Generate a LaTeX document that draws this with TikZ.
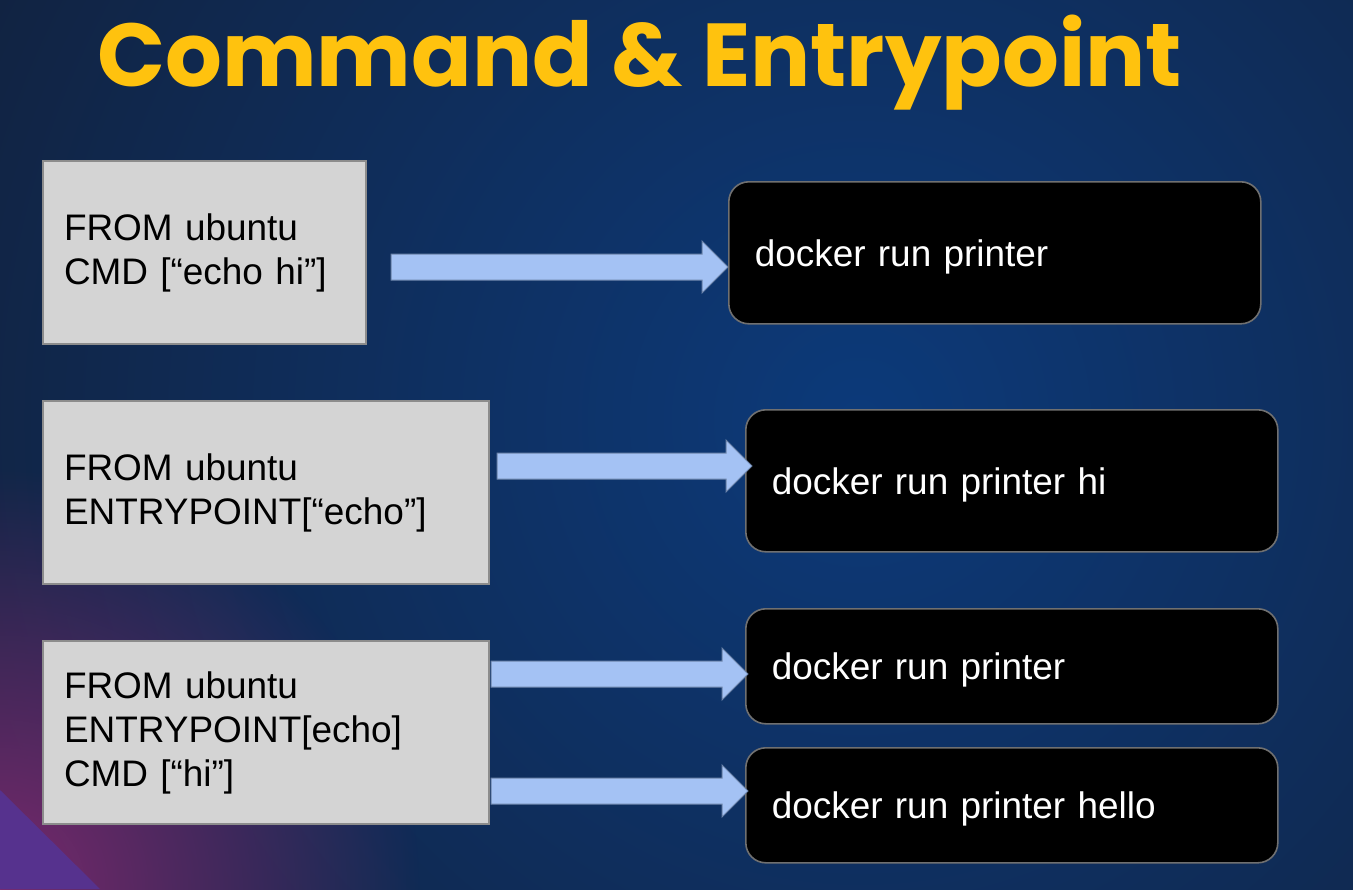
\documentclass[tikz,border=0pt]{standalone}
\usepackage{fontspec}
\setmainfont{Liberation Sans}
\newfontfamily\titlefont{Poppins}
\usetikzlibrary{%
    calc,
    fadings,
    positioning
}
\definecolor{bgdark}{HTML}{131B2E}
\definecolor{bgglow}{HTML}{0C3A7A}
\definecolor{titleyellow}{HTML}{FFC20E}
\definecolor{boxgray}{HTML}{D4D4D4}
\definecolor{boxedge}{HTML}{8C8C8C}
\definecolor{runedge}{HTML}{707070}
\definecolor{arrowblue}{HTML}{A4C2F4}
\definecolor{arrowedge}{HTML}{6C84AA}
\definecolor{cornerpink}{HTML}{7A2A6E}
\definecolor{cornerpurple}{HTML}{56328E}
\tikzfading[name=cornerfade, inner color=transparent!0, outer color=transparent!100]
\tikzset{
    srcbox/.style = {draw=boxedge, fill=boxgray, line width=1.5pt, anchor=north west,
        minimum height=137.25pt, inner xsep=15.75pt, text width=#1, align=left,
        font=\fontsize{27.7}{33}\selectfont},
    runbox/.style = {draw=runedge, fill=black, line width=1.2pt, rounded corners=15pt,
        anchor=north west, minimum height=#1, inner xsep=19.5pt, text width=360pt,
        align=left, text depth=0pt, text=white, font=\fontsize{27.7}{33}\selectfont},
    fatarrow/.style = {draw=arrowedge, fill=arrowblue, line width=0.75pt}
}
\newcommand{\blockarrow}[2]{%
    \draw[fatarrow] ($(#1)+(0,-13)$) -- ($(#2)+(-26,-13)$) -- ($(#2)+(-26,-26)$) -- (#2)
        -- ($(#2)+(-26,26)$) -- ($(#2)+(-26,13)$) -- ($(#1)+(0,13)$) -- cycle;}

\begin{document}
\begin{tikzpicture}[x=0.75pt, y=-0.75pt]
    % background
    \fill[bgdark] (0,0) rectangle (1353,889);
    \begin{scope}
        \clip (0,0) rectangle (1353,889);
        \shade[inner color=bgglow, outer color=bgdark] (860,420) circle (1300);
        \fill[cornerpink, path fading=cornerfade] (0,889) circle (420);
        \fill[cornerpurple] (0,790) -- (100,889) -- (0,889) -- cycle;
    \end{scope}
    \useasboundingbox (0,0) rectangle (1353,889);

    \node[anchor=base west, text=titleyellow, inner sep=0pt,
          font=\titlefont\bfseries\fontsize{67}{77}\selectfont] (title) at (97,86)
        {Command \& Entrypoint};

    \node[srcbox=210.75pt] (src1) at (42,160) {FROM ubuntu\\CMD [“echo hi”]};
    \node[srcbox=303pt]    (src2) at (42,400) {FROM ubuntu\\ENTRYPOINT[“echo”]};
    \node[srcbox=303pt]    (src3) at (42,640) {FROM ubuntu\\ENTRYPOINT[echo]\\CMD [“hi”]};

    \node[runbox=106.5pt]  (dst1) at (728,181) {docker run printer};
    \node[runbox=106.5pt]  (dst2) at (745,409) {docker run printer hi};
    \node[runbox=86.25pt]  (dst3) at (745,608) {docker run printer};
    \node[runbox=86.25pt]  (dst4) at (745,747) {docker run printer hello};

    \foreach \s/\d/\dx/\dy/\tx [count=\i] in
        {src1/dst1/24/14.5/0, src2/dst2/7/-26.5/7, src3/dst3/1/-58.5/3, src3/dst4/1/58.5/3} {
        \coordinate (a-\i) at ($(\s.east)+(\dx,\dy)$);
        \coordinate (t-\i) at ($(a-\i -| \d.west)+(\tx,0)$);
        \blockarrow{a-\i}{t-\i}
    }
\end{tikzpicture}
\end{document}
